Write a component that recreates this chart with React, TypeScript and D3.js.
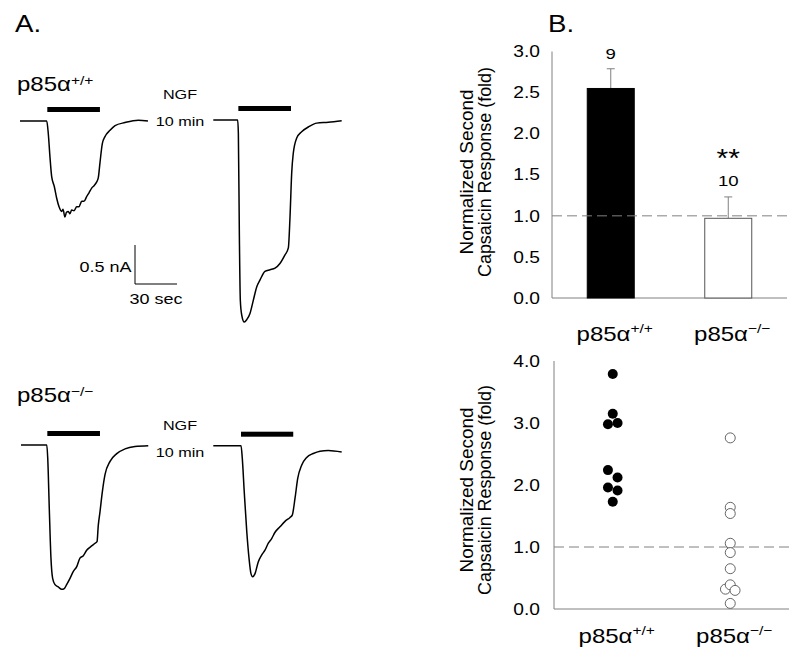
import React from 'react';
import * as d3 from 'd3';

// ---------- Panel A: whole-cell current traces (time s, current nA) ----------
const wtFirstTrace: [number, number][] = [
  [0, 0], [19.1, 0], [20.2, -0.16], [21.4, -0.46], [22.6, -0.71], [24.5, -0.84], [26.2, -0.99],
  [27.9, -1.1], [29.8, -1.16], [30.7, -1.13], [32.1, -1.23], [33.2, -1.17], [34.5, -1.16],
  [35.7, -1.19], [36.9, -1.14], [38.6, -1.15], [40.5, -1.1], [42.1, -1.1], [44.1, -1.03],
  [45.7, -1.03], [47.6, -0.97], [49.3, -0.92], [51.2, -0.86], [52.9, -0.83], [54.8, -0.78],
  [55.9, -0.73], [57.1, -0.54], [58.8, -0.29], [60.7, -0.2], [64.3, -0.12], [67.9, -0.06],
  [75, -0.02], [84.5, 0.01], [91.4, 0],
];
const wtSecondTrace: [number, number][] = [
  [0, 0], [17.4, 0], [17.9, -0.17], [18.6, -1.45], [19.3, -2.31], [20.3, -2.5], [22.1, -2.59],
  [23.9, -2.56], [26.2, -2.48], [28.6, -2.31], [31, -2.14], [33.4, -2.05], [36.9, -1.94],
  [40.5, -1.92], [44.1, -1.9], [47.6, -1.84], [51.2, -1.73], [53.6, -1.64], [54.8, -1.24],
  [56, -0.68], [57.1, -0.43], [59.6, -0.23], [63.1, -0.15], [67.9, -0.09], [73.9, -0.04],
  [82.1, -0.03], [91.7, -0.01],
];
const koFirstTrace: [number, number][] = [
  [0, 0], [18.4, 0], [19.1, -0.17], [20.2, -0.81], [21.4, -1.45], [22.6, -1.71], [24.3, -1.79],
  [26.6, -1.82], [29.1, -1.85], [30.9, -1.84], [32.6, -1.79], [35, -1.71], [37.4, -1.62],
  [39.8, -1.56], [42.1, -1.45], [44.5, -1.42], [46.9, -1.35], [50, -1.3], [52.9, -1.26],
  [54.3, -1.24], [55.2, -1.03], [56.4, -0.86], [58.1, -0.6], [60, -0.38], [63.6, -0.21],
  [68.4, -0.11], [74.3, -0.05], [81.4, -0.02], [90.9, -0.01],
];
const koSecondTrace: [number, number][] = [
  [0, 0], [19.8, 0], [20.7, -0.16], [22.1, -0.59], [23.9, -1.1], [25.5, -1.44], [26.9, -1.64],
  [28.1, -1.68], [29.8, -1.64], [32.1, -1.49], [34.6, -1.4], [36.9, -1.34], [39.3, -1.25],
  [41.7, -1.19], [44.1, -1.11], [47.6, -1.04], [51.2, -0.97], [54.8, -0.92], [56.4, -0.89],
  [58.4, -0.67], [60.3, -0.42], [63.1, -0.25], [66.7, -0.15], [71.4, -0.1], [76.2, -0.07],
  [82.1, -0.06], [91.7, -0.08],
];
// capsaicin application windows (s) for each trace
const capsaicinWindows: [number, number][] = [[19.5, 57.1], [17.9, 55.5], [18.8, 56.4], [19.8, 57.1]];
const scaleBarSec = 30;
const scaleBarNA = 0.5;

// ---------- Panel B ----------
const genotypeSup = ['+/+', '\u2212/\u2212'];
const barMeans = [2.55, 0.97];
const barSems = [0.24, 0.26];
const barNs = ['9', '10'];
const barSig = ['', '**'];
const barTicks = [0, 0.5, 1, 1.5, 2, 2.5, 3];

const wtPoints = [3.79, 3.15, 2.98, 3.0, 2.24, 2.12, 1.96, 1.91, 1.73];
const wtJitter = [0, 0, -1, 1, -1, 1, -1, 1, 0];
const koPoints = [2.76, 1.64, 1.54, 1.06, 0.91, 0.65, 0.32, 0.39, 0.3, 0.09];
const koJitter = [0, 0, 0, 0, 0, 0, -1, 0, 1, 0];
const dotTicks = [0, 1, 2, 3, 4];

const yTitle = ['Normalized Second', 'Capsaicin Response (fold)'];

const SX = 1.2;
const FONT = "'Liberation Sans', Arial, Helvetica, sans-serif";
const GRAY = '#808080';

function T({ x, y, size, anchor = 'start', fill = '#000', children }: any) {
  return (
    <text transform={`translate(${x},${y}) scale(${SX},1)`} fontSize={size} textAnchor={anchor} fontFamily={FONT} fill={fill}>
      {children}
    </text>
  );
}

function Geno({ x, y, sup, anchor = 'start', raise = 7 }: any) {
  return (
    <T x={x} y={y} size={20} anchor={anchor}>
      p85α<tspan dy={-raise} fontSize={13}>{sup}</tspan>
    </T>
  );
}

function RText({ x, y, size, len, children }: any) {
  return (
    <text transform={`translate(${x},${y}) rotate(-90)`} fontSize={size} textAnchor="middle"
      fontFamily={FONT} textLength={len} lengthAdjust="spacingAndGlyphs" fill="#000">
      {children}
    </text>
  );
}

function YTitle({ cy }: { cy: number }) {
  return (
    <g>
      <RText x={473} y={cy} size={19} len={165}>{yTitle[0]}</RText>
      <RText x={491} y={cy} size={19} len={210}>{yTitle[1]}</RText>
    </g>
  );
}

function Trace({ data, x0, y0, win }: { data: [number, number][]; x0: number; y0: number; win: [number, number] }) {
  const xs = d3.scaleLinear().domain([0, scaleBarSec]).range([x0, x0 + 42]);
  const ys = d3.scaleLinear().domain([0, -scaleBarNA]).range([y0, y0 + 39]);
  const line = d3.line<[number, number]>().x(d => xs(d[0])).y(d => ys(d[1])).curve(d3.curveMonotoneX);
  return (
    <g>
      <rect x={xs(win[0])} y={y0 - 14} width={xs(win[1]) - xs(win[0])} height={5} fill="#000" />
      <path d={line(data) || ''} fill="none" stroke="#000" strokeWidth={1.5} strokeLinejoin="round" />
    </g>
  );
}

function NGF({ x, y }: any) {
  return (
    <g>
      <T x={x} y={y} size={13.5} anchor="middle">NGF</T>
      <T x={x} y={y + 27} size={13.5} anchor="middle">10 min</T>
    </g>
  );
}

export default function App() {
  // scale bar
  const sbX = d3.scaleLinear().domain([0, scaleBarSec]).range([135, 177]);
  const sbY = d3.scaleLinear().domain([0, scaleBarNA]).range([284, 245]);

  // bar chart
  const bx = d3.scalePoint<number>().domain([0, 1]).range([552, 787]).padding(0.5);
  const by = d3.scaleLinear().domain([0, 3]).range([298, 51.5]);
  const barW = 47;

  // dot plot
  const dx = d3.scalePoint<number>().domain([0, 1]).range([554, 789]).padding(0.5);
  const dy = d3.scaleLinear().domain([0, 4]).range([609, 361]);
  const r = 5;
  const jitterStep = 4.8;

  const ko = 1;
  const koTop = by(barMeans[ko] + barSems[ko]);

  return (
    <svg width={800} height={657} style={{ position: 'absolute', left: 0, top: 0, background: '#fff' }}>
      <rect width={800} height={657} fill="#fff" />
      {/* Panel A */}
      <T x={15} y={31.7} size={23}>A.</T>
      <Geno x={17} y={90.5} sup={genotypeSup[0]} raise={6} />
      <Geno x={17} y={401.7} sup={genotypeSup[1]} raise={6} />
      <Trace data={wtFirstTrace} x0={20} y0={121} win={capsaicinWindows[0]} />
      <Trace data={wtSecondTrace} x0={213.3} y0={120} win={capsaicinWindows[1]} />
      <Trace data={koFirstTrace} x0={21} y0={445} win={capsaicinWindows[2]} />
      <Trace data={koSecondTrace} x0={213.3} y0={445.7} win={capsaicinWindows[3]} />
      <NGF x={180} y={99} />
      <NGF x={180} y={430} />
      {/* scale bar */}
      <path d={`M${sbX(0)},${sbY(scaleBarNA)}V${sbY(0)}H${sbX(scaleBarSec)}`} fill="none" stroke="#000" strokeWidth={1} />
      <T x={131.5} y={272} size={15} anchor="end">0.5 nA</T>
      <T x={156} y={304} size={15} anchor="middle">30 sec</T>

      {/* Panel B top: bar chart */}
      <T x={548} y={31.7} size={23}>B.</T>
      <line x1={552} x2={552} y1={by(3)} y2={by(0)} stroke={GRAY} />
      <line x1={552} x2={787} y1={by(0)} y2={by(0)} stroke={GRAY} />
      {barTicks.map(t => (
        <T key={t} x={540} y={by(t) + 5.7} size={16} anchor="end">{t.toFixed(1)}</T>
      ))}
      {barMeans.map((m, i) => (
        <g key={i}>
          <line x1={bx(i)} x2={bx(i)} y1={by(m)} y2={by(m + barSems[i])} stroke={GRAY} />
          <line x1={bx(i)! - 4} x2={bx(i)! + 4} y1={by(m + barSems[i])} y2={by(m + barSems[i])} stroke={GRAY} />
          <rect x={bx(i)! - barW / 2} y={by(m)} width={barW} height={by(0) - by(m)}
            fill={i === 0 ? '#000' : '#fff'} stroke={i === 0 ? '#000' : '#555'} strokeWidth={1} />
        </g>
      ))}
      <line x1={552} x2={787} y1={by(1)} y2={by(1)} stroke={GRAY} strokeDasharray="10,5" />
      <T x={bx(0)} y={by(barMeans[0] + barSems[0]) - 10} size={15.5} anchor="middle">{barNs[0]}</T>
      <T x={bx(ko)} y={koTop - 30} size={25} anchor="middle">{barSig[ko]}</T>
      <T x={bx(ko)} y={koTop - 10.5} size={15.5} anchor="middle">{barNs[ko]}</T>
      <YTitle cy={172} />
      {genotypeSup.map((s, i) => (
        <Geno key={i} x={bx(i)! + 4} y={341} sup={s} anchor="middle" raise={8} />
      ))}

      {/* Panel B bottom: dot plot */}
      <line x1={554} x2={554} y1={dy(4)} y2={dy(0)} stroke={GRAY} />
      <line x1={554} x2={789} y1={dy(0)} y2={dy(0)} stroke={GRAY} />
      {dotTicks.map(t => (
        <T key={t} x={540} y={dy(t) + 5.7} size={16} anchor="end">{t.toFixed(1)}</T>
      ))}
      <line x1={554} x2={789} y1={dy(1)} y2={dy(1)} stroke={GRAY} strokeDasharray="10,5" />
      {wtPoints.map((v, i) => (
        <circle key={'w' + i} cx={dx(0)! + wtJitter[i] * jitterStep} cy={dy(v)} r={r} fill="#000" />
      ))}
      {koPoints.map((v, i) => (
        <circle key={'k' + i} cx={dx(1)! + koJitter[i] * jitterStep} cy={dy(v)} r={r} fill="#fff" stroke="#555" strokeWidth={0.9} />
      ))}
      <YTitle cy={490} />
      {genotypeSup.map((s, i) => (
        <Geno key={i} x={dx(i)! + 4} y={642.7} sup={s} anchor="middle" raise={8} />
      ))}
    </svg>
  );
}
